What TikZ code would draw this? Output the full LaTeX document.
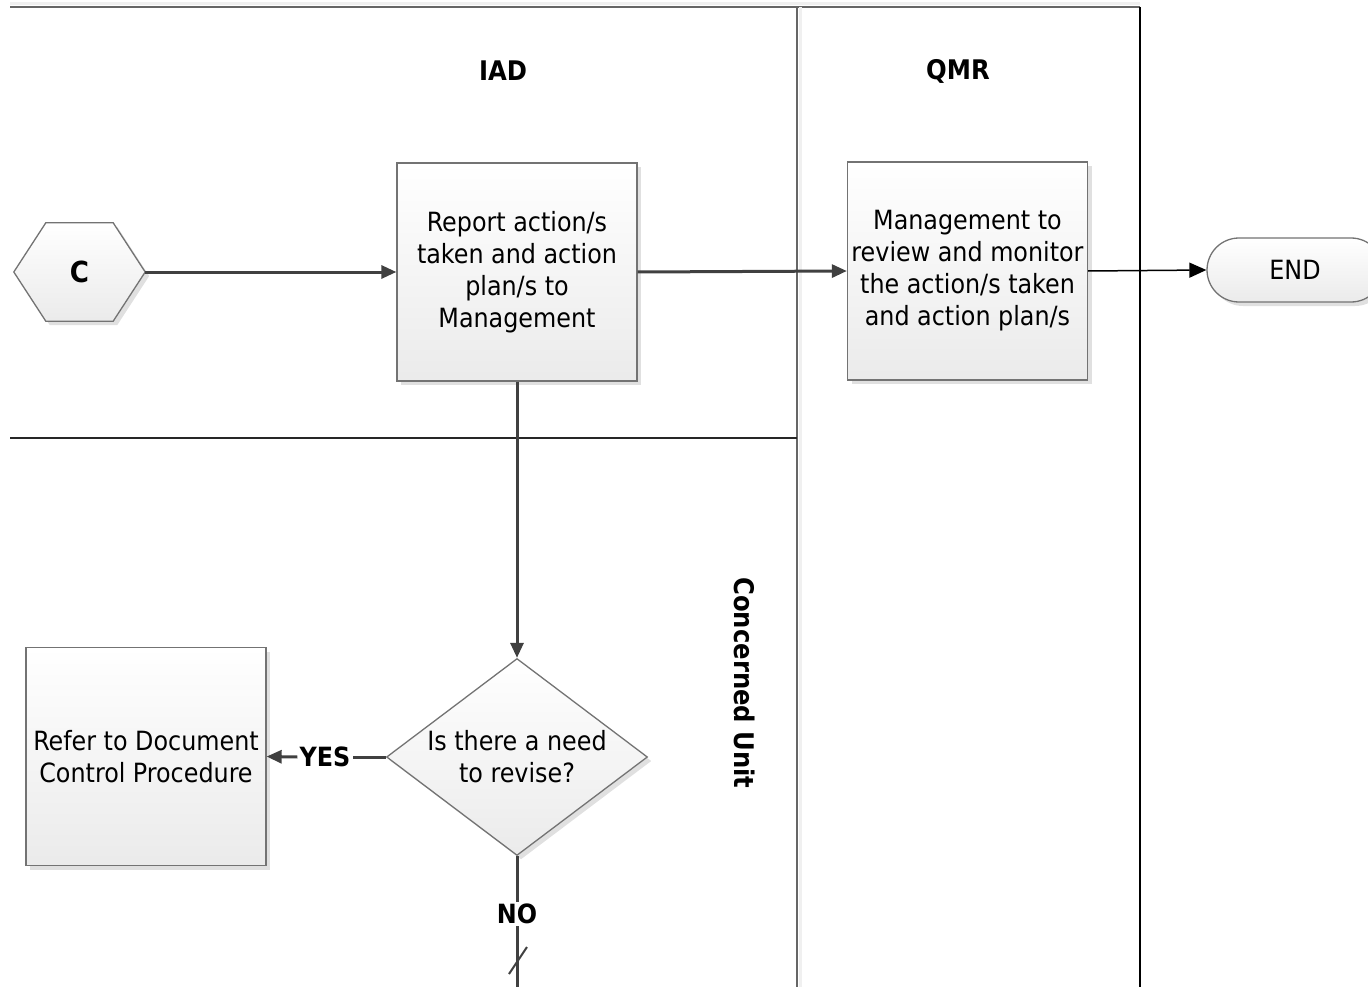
\documentclass[tikz,border=0pt]{standalone}
\usepackage{fontspec}
\setmainfont{DejaVu Sans Condensed}
\usetikzlibrary{arrows.meta,shapes.geometric,shadows,backgrounds}
\begin{document}
\begin{tikzpicture}[x=1pt,y=-1pt,
  every node/.style={font=\fontsize{26.5}{32}\selectfont, align=center},
  lanehead/.style={font=\bfseries\fontsize{27}{32}\selectfont},
  boldlabel/.style={font=\bfseries\fontsize{26.5}{30}\selectfont, inner sep=2pt},
  softshadow/.style={general shadow={shadow xshift=4pt, shadow yshift=-4pt, fill=black!12}},
  procbox/.style={draw=black!55, line width=1.3pt, top color=white, bottom color=black!8,
    minimum width=240pt, minimum height=218pt, inner sep=0pt, softshadow},
  decision/.style={diamond, draw=black!55, line width=1.3pt, top color=white, bottom color=black!8,
    minimum width=261pt, minimum height=197pt, inner sep=0pt, softshadow},
  terminal/.style={draw=black!55, line width=1.3pt, top color=white, bottom color=black!8,
    rounded corners=32pt, minimum width=176pt, minimum height=64pt, inner sep=0pt, softshadow},
  flow/.style={draw=black!75, line width=3pt, -{Triangle[length=15pt,width=13pt]}},
  plainflow/.style={draw=black!75, line width=3pt},
  thinflow/.style={draw=black, line width=1.5pt, -{Triangle[length=17pt,width=15pt]}},
  lane/.style={line width=2.6pt}
]
\useasboundingbox (0,0) rectangle (1368,987);

% swimlane frame
\coordinate (tl) at (10,7);
\coordinate (tm) at (797,7);
\coordinate (tr) at (1140,7);
\coordinate (bm) at (797,987);
\coordinate (br) at (1140,987);
\coordinate (ml) at (10,438);
\coordinate (mm) at (797,438);
\draw[line width=3pt, draw=black!6] ([yshift=3pt]tl) -- ([yshift=3pt]tr);
\draw[lane, draw=black!60] (tl) -- (tr);
\draw[line width=3pt, draw=black!6] ([xshift=3pt]tm) -- ([xshift=3pt]bm);
\draw[lane, draw=black!60] (tm) -- (bm);
\draw[lane, draw=black] (tr) -- (br);
\draw[lane, draw=black!85] (ml) -- (mm);

% lane titles
\node[lanehead] (iad) at (503,71) {IAD};
\node[lanehead] (qmr) at (958,71) {QMR};
\node[lanehead, rotate=-90] (unit) at (745,683) {Concerned Unit};

% connector C (hexagon)
\node[font=\bfseries\fontsize{29}{30}\selectfont, minimum width=131pt, minimum height=98pt, inner sep=0pt] (C) at (79.5,272) {C};
\begin{scope}[on background layer]
\draw[draw=black!55, line width=1.3pt, top color=white, bottom color=black!8, softshadow]
  (C.west) -- ([xshift=32pt]C.north west) -- ([xshift=-32pt]C.north east) -- (C.east)
  -- ([xshift=-32pt]C.south east) -- ([xshift=32pt]C.south west) -- cycle;
\end{scope}

% process steps
\node[procbox] (report) at (517,272) {Report action/s\\taken and action\\plan/s to\\Management};
\node[procbox] (review) at (967.5,271) {Management to\\review and monitor\\the action/s taken\\and action plan/s};
\node[terminal] (end) at (1295,270) {END};
\node[decision] (dec) at (517,757) {};
\node (dectext) at (517,757) {Is there a need\\to revise?};
\node[procbox] (refer) at (146,756.5) {Refer to Document\\Control Procedure};

% branch labels
\node[boldlabel] (yes) at (325,757) {YES};
\node[boldlabel] (no) at (517,914) {NO};
\coordinate (noend) at (517,987);
\coordinate (cutA) at (509,974);
\coordinate (cutB) at (527,947);

% connectors
\draw[flow] (C.east) -- (report.west);
\draw[flow] (report.east) -- (review.west);
\draw[thinflow] (review.east) -- (end.west);
\draw[flow] (report.south) -- (dec.north);
\draw[plainflow] (dec.west) -- (yes.east);
\draw[flow] (yes.west) -- (refer.east);
\draw[plainflow] (dec.south) -- (no.north);
\draw[plainflow] (no.south) -- (noend);
\draw[line width=2pt, draw=black!75] (cutA) -- (cutB);
\end{tikzpicture}
\end{document}
